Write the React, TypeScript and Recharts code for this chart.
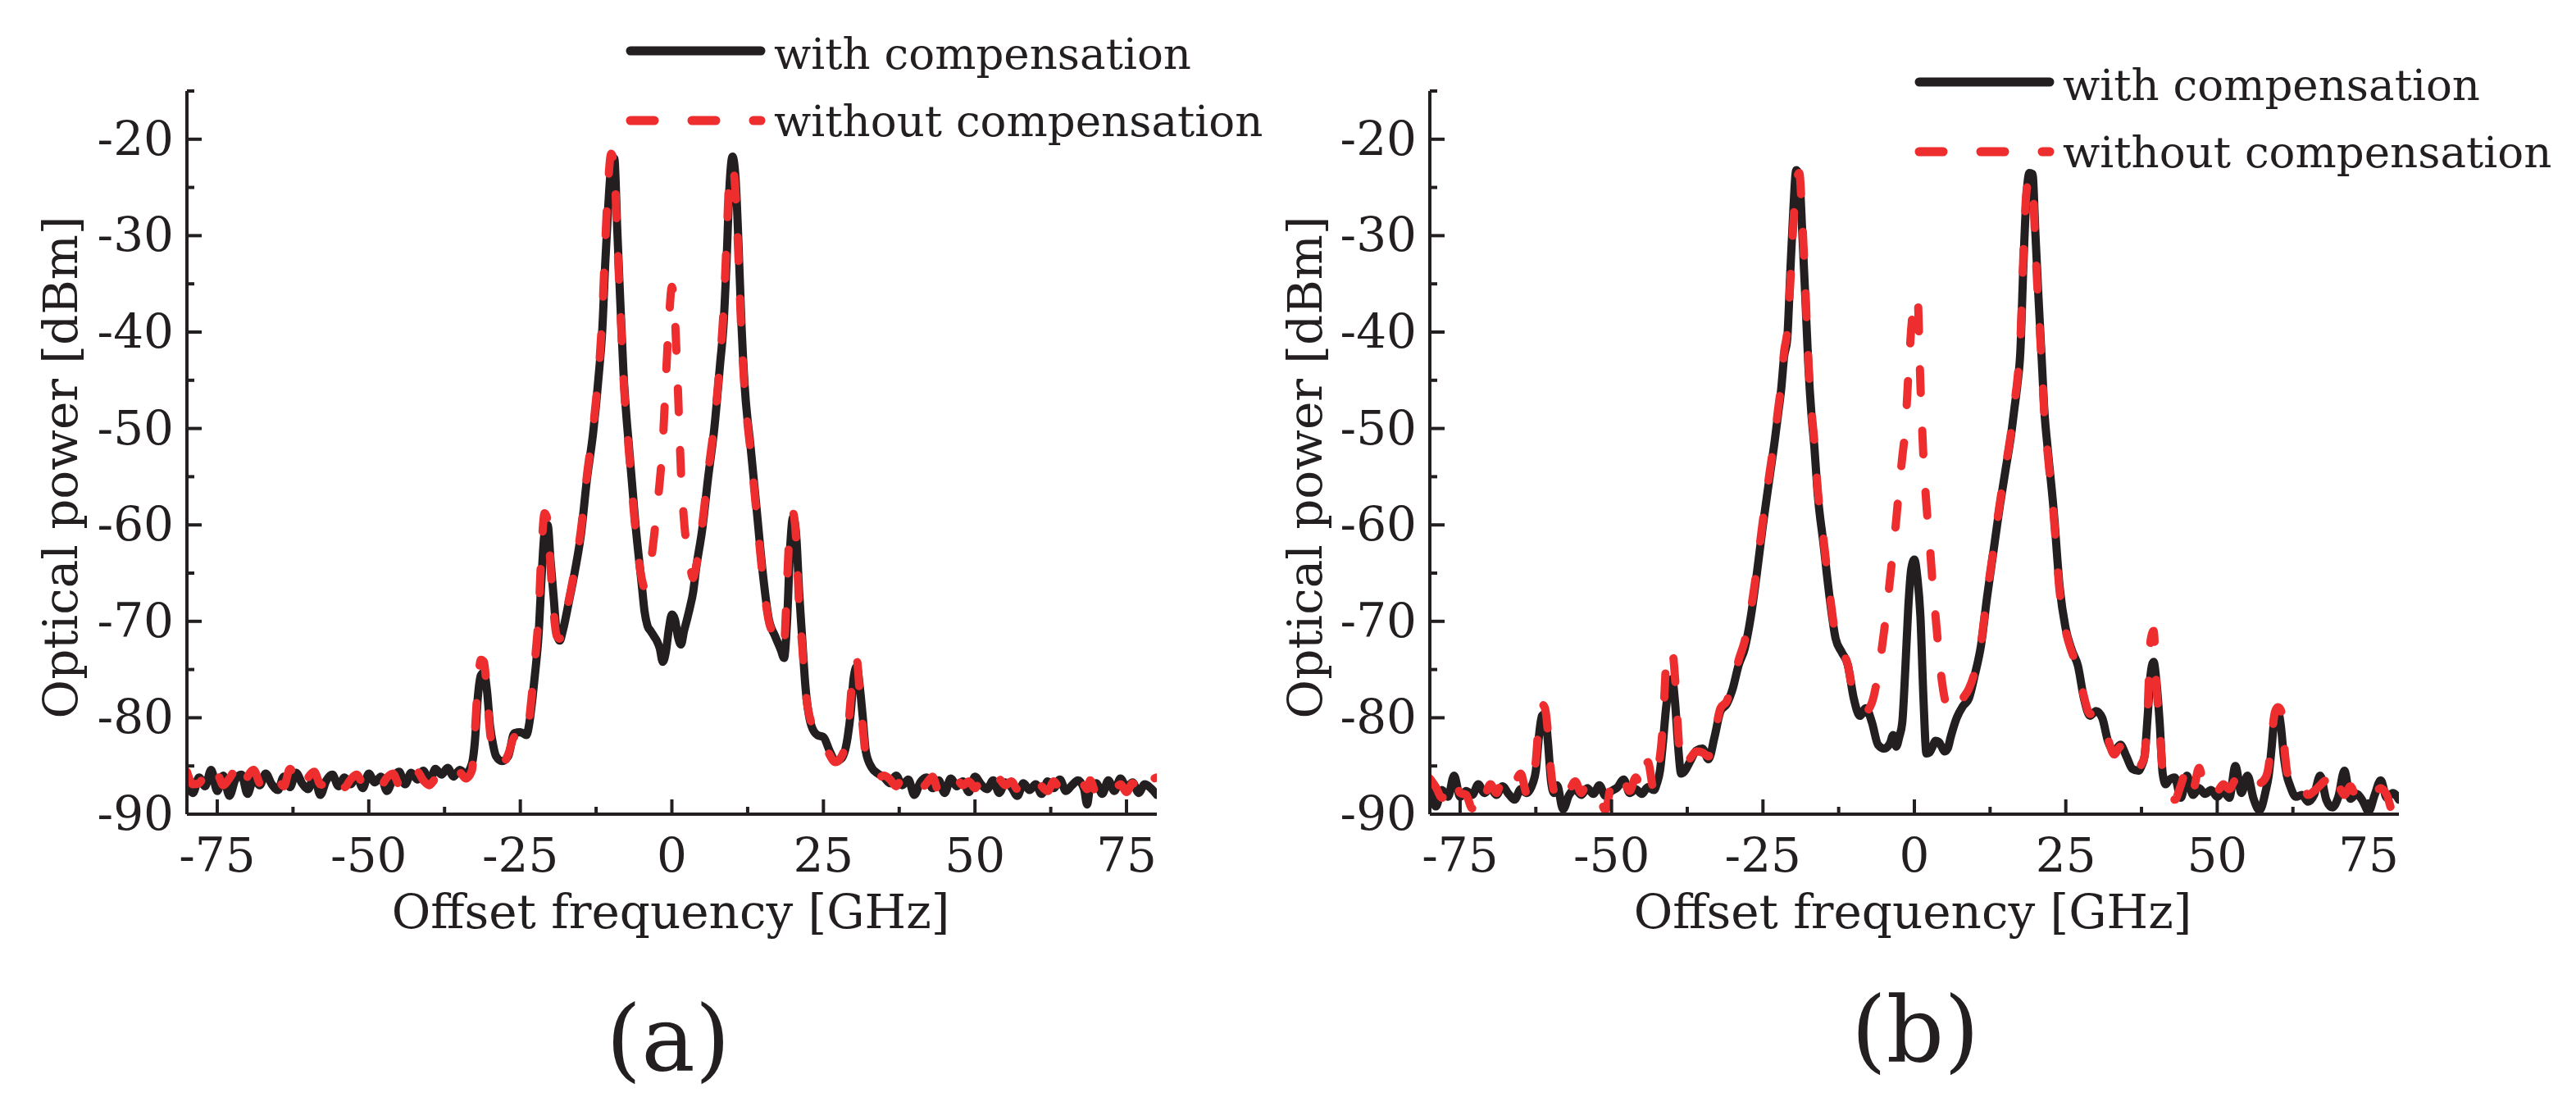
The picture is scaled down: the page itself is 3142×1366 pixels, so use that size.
import { LineChart, Line, XAxis, YAxis } from 'recharts';

const INK = '#231f20';
const RED = '#ee2d2f';
const FONT = '"DejaVu Serif", "Liberation Serif", "Noto Serif", serif';

// tick values (minor ticks included, labels only on the major ones)
const xTicks = [-75, -62.5, -50, -37.5, -25, -12.5, 0, 12.5, 25, 37.5, 50, 62.5, 75];
const yTicks = [-90, -85, -80, -75, -70, -65, -60, -55, -50, -45, -40, -35, -30, -25, -20, -15];

// (a) [offset GHz, dBm]
const withCompA: [number, number][] = [
  [-80, -86.5], [-79, -87.8], [-78, -86.2], [-77, -87.1], [-76, -85.4], [-75, -87.6], [-74, -86.0], [-73, -88.1],
  [-72, -86.4], [-71, -85.9], [-70, -87.9], [-69, -86.3], [-68, -87.0], [-67, -85.8], [-66, -86.9], [-65, -87.5],
  [-64, -86.1], [-63, -87.2], [-62, -85.7], [-61, -86.8], [-60, -87.4], [-59, -86.0], [-58, -88.0], [-57, -86.5],
  [-56, -85.9], [-55, -87.1], [-54, -86.2], [-53, -86.9], [-52, -86.0], [-51, -87.3], [-50, -85.8], [-49, -86.7],
  [-48, -86.1], [-47, -87.6], [-46, -86.3], [-45, -85.6], [-44, -86.9], [-43, -85.7], [-42, -86.4], [-41, -85.5],
  [-40, -86.6], [-39, -85.3], [-38, -85.9], [-37, -85.2], [-36, -86.1], [-35, -85.4], [-34, -85.8],
  [-33, -84.8], [-32.5, -82.5], [-32, -77.8], [-31.5, -75.6], [-31, -75.3], [-30.5, -77.2], [-30, -80.8],
  [-29.5, -82.8], [-29, -84.0], [-28, -84.5], [-27, -84.0], [-26, -81.6], [-25, -81.5], [-24, -81.8],
  [-23.5, -80.5], [-23, -78.0], [-22.5, -75.0], [-22, -71.5], [-21.5, -65.5], [-21, -60.8], [-20.5, -60.0],
  [-20, -63.8], [-19.5, -67.5], [-19, -71.2], [-18.5, -72.0], [-18, -71.0], [-17, -68.0], [-16, -64.8],
  [-15, -61.0], [-14, -55.2], [-13, -50.5], [-12.5, -47.5], [-12, -44.0], [-11.5, -40.0], [-11, -33.0],
  [-10.5, -27.0], [-10, -22.8], [-9.5, -22.0], [-9, -29.5], [-8.5, -37.0], [-8, -44.0], [-7, -52.5],
  [-6, -60.0], [-5, -66.0], [-4.5, -69.0], [-4, -70.5], [-3.5, -71.0], [-3, -71.5], [-2.5, -72.0],
  [-2, -72.8], [-1.5, -74.2], [-1, -73.2], [-0.5, -70.8], [0, -69.3], [0.5, -69.8], [1, -71.6], [1.5, -72.4],
  [2, -71.0], [2.5, -69.8], [3, -68.5], [3.5, -67.0], [4, -64.5], [5, -60.5], [6, -55.0], [7, -50.0],
  [8, -43.0], [8.5, -39.5], [9, -33.0], [9.5, -25.0], [10, -21.8], [10.5, -24.0], [11, -31.0], [11.5, -39.5],
  [12, -45.5], [13, -52.0], [14, -58.5], [15, -65.0], [16, -69.8], [17, -71.5], [18, -73.0], [18.5, -73.8],
  [19, -70.0], [19.5, -62.5], [20, -59.2], [20.5, -61.0], [21, -67.0], [21.5, -71.8], [22, -76.5],
  [23, -80.8], [24, -81.8], [25, -82.0], [26, -83.4], [27, -84.5], [28, -84.2], [29, -82.0], [29.5, -79.5],
  [30, -75.8], [30.5, -74.7], [31, -76.8], [31.5, -80.0], [32, -83.5], [33, -85.2], [34, -85.8],
  [35, -86.2], [36, -86.8], [37, -86.0], [38, -87.0], [39, -86.4], [40, -88.0], [41, -86.7], [42, -86.2],
  [43, -87.3], [44, -86.5], [45, -87.8], [46, -86.3], [47, -87.1], [48, -86.6], [49, -87.7], [50, -86.1],
  [51, -86.9], [52, -87.4], [53, -86.5], [54, -87.8], [55, -86.7], [56, -87.2], [57, -88.1], [58, -86.8],
  [59, -87.5], [60, -86.9], [61, -87.9], [62, -86.6], [63, -87.3], [64, -86.4], [65, -87.6], [66, -87.0],
  [67, -86.5], [68, -87.4], [68.5, -89.0], [69, -87.2], [70, -86.8], [71, -87.9], [72, -86.5], [73, -87.6],
  [74, -86.3], [75, -87.2], [76, -86.7], [77, -87.8], [78, -86.9], [79, -87.3], [80, -88.0],
];

const withoutCompA: [number, number][] = [
  [-80, -85.6], [-79, -86.9], [-78, -86.8], [-77, -86.0], [-76, -87.2], [-75, -85.9], [-74, -87.0], [-73, -86.3],
  [-72, -85.5], [-71, -87.4], [-70, -86.1], [-69, -85.4], [-68, -86.8], [-67, -87.3], [-66, -85.9], [-65, -86.4],
  [-64, -87.1], [-63, -85.3], [-62, -86.6], [-61, -87.5], [-60, -86.2], [-59, -85.6], [-58, -86.9], [-57, -87.0],
  [-56, -86.1], [-55, -85.8], [-54, -87.2], [-53, -86.4], [-52, -85.9], [-51, -86.7], [-50, -86.3], [-49, -85.7],
  [-48, -87.0], [-47, -86.2], [-46, -85.8], [-45, -86.9], [-44, -86.0], [-43, -86.8], [-42, -85.6], [-41, -86.5],
  [-40, -87.0], [-39, -86.4], [-38, -86.8], [-37, -87.2], [-36, -86.0], [-35, -85.7], [-34, -86.3],
  [-33, -85.5], [-32.5, -81.5], [-32, -76.5], [-31.5, -74.0], [-31, -74.2], [-30.5, -77.5], [-30, -81.5],
  [-29.5, -83.5], [-29, -84.5], [-28, -84.8], [-27, -83.8], [-26, -82.0], [-25, -81.8], [-24, -82.2],
  [-23.5, -80.0], [-23, -77.0], [-22.5, -73.5], [-22, -69.5], [-21.5, -62.5], [-21, -58.8], [-20.5, -59.5],
  [-20, -64.5], [-19.5, -69.0], [-19, -71.5], [-18.5, -71.8], [-18, -70.5], [-17, -67.8], [-16, -64.5],
  [-15, -60.5], [-14, -54.8], [-13, -50.0], [-12.5, -47.0], [-12, -43.5], [-11.5, -38.5], [-11, -31.0],
  [-10.5, -24.5], [-10, -21.5], [-9.5, -23.0], [-9, -30.5], [-8.5, -37.5], [-8, -44.5], [-7, -53.0],
  [-6, -60.5], [-5, -65.5], [-4.5, -66.5], [-4, -65.5], [-3.5, -64.0], [-3, -61.5], [-2.5, -58.5],
  [-2, -55.5], [-1.5, -51.5], [-1, -45.0], [-0.5, -39.0], [0, -35.3], [0.5, -38.5], [1, -46.0], [1.5, -54.5],
  [2, -59.5], [2.5, -62.5], [3, -64.3], [3.5, -65.5], [4, -64.3], [5, -60.0], [6, -54.5], [7, -49.5],
  [8, -42.5], [8.5, -38.0], [9, -31.0], [9.5, -24.0], [10, -22.8], [10.5, -25.5], [11, -32.5], [11.5, -40.5],
  [12, -46.0], [13, -52.5], [14, -59.0], [15, -65.5], [16, -70.0], [17, -71.5], [18, -72.8], [18.5, -72.5],
  [19, -66.0], [19.5, -60.0], [20, -58.8], [20.5, -61.5], [21, -68.5], [21.5, -72.5], [22, -76.8],
  [23, -80.5], [24, -81.5], [25, -82.2], [26, -83.8], [27, -84.6], [28, -84.0], [29, -81.5], [29.5, -78.0],
  [30, -74.0], [30.5, -74.0], [31, -77.5], [31.5, -81.0], [32, -84.0], [33, -85.5], [34, -86.2],
  [35, -86.0], [36, -86.4], [37, -87.1], [38, -86.3], [39, -86.9], [40, -86.5], [41, -87.4], [42, -86.8],
  [43, -86.1], [44, -87.6], [45, -86.7], [46, -87.2], [47, -86.4], [48, -87.0], [49, -86.6], [50, -87.3],
  [51, -86.5], [52, -86.9], [53, -87.6], [54, -86.4], [55, -87.0], [56, -86.6], [57, -87.4], [58, -86.8],
  [59, -87.2], [60, -86.3], [61, -87.1], [62, -87.6], [63, -86.6], [64, -87.3], [65, -86.9], [66, -87.5],
  [67, -86.7], [68, -87.0], [68.5, -87.4], [69, -86.5], [70, -87.8], [71, -87.0], [72, -86.6], [73, -87.4],
  [74, -86.9], [75, -87.7], [76, -86.8], [77, -87.3], [78, -88.1], [79, -86.6], [80, -86.2],
];

// (b) [offset GHz, dBm]
const withCompB: [number, number][] = [
  [-80, -86.8], [-79, -89.2], [-78, -87.5], [-77, -88.2], [-76, -86.0], [-75, -88.2], [-74, -87.6], [-73, -88.0],
  [-72, -86.9], [-71, -87.8], [-70, -87.3], [-69, -88.0], [-68, -87.1], [-67, -87.9], [-66, -88.5], [-65, -87.4],
  [-64, -87.8], [-63.5, -87.5], [-63, -86.8], [-62.5, -85.5], [-62, -82.0], [-61.5, -79.8], [-61, -79.6],
  [-60.5, -82.5], [-60, -86.5], [-59.5, -87.8], [-59, -87.0], [-58, -89.5], [-57, -88.0], [-56, -87.4],
  [-55, -88.0], [-54, -87.3], [-53, -87.9], [-52, -87.0], [-51, -88.1], [-50, -87.6], [-49, -87.2], [-48, -86.4],
  [-47, -87.8], [-46, -87.4], [-45, -87.9], [-44, -87.2], [-43, -87.5], [-42.5, -86.8], [-42, -85.5],
  [-41.5, -82.5], [-41, -79.0], [-40.5, -76.8], [-40, -76.0], [-39.5, -78.5], [-39, -83.0], [-38.5, -85.8],
  [-38, -85.6], [-37, -84.5], [-36, -83.4], [-35, -83.2], [-34, -84.3], [-33, -82.0], [-32, -79.3],
  [-31, -78.6], [-30, -77.0], [-29, -74.5], [-28, -72.8], [-27, -69.5], [-26, -65.0], [-25, -60.0],
  [-24, -55.5], [-23, -51.0], [-22.5, -48.5], [-22, -46.0], [-21.5, -42.5], [-21, -40.8], [-20.5, -34.0],
  [-20, -27.5], [-19.5, -23.2], [-19, -24.0], [-18.5, -29.8], [-18, -36.5], [-17.5, -43.5], [-17, -48.5],
  [-16.5, -52.0], [-16, -56.5], [-15, -62.0], [-14, -67.5], [-13, -71.8], [-12, -73.2], [-11, -74.5],
  [-10, -78.0], [-9, -79.8], [-8, -79.0], [-7, -80.5], [-6, -82.8], [-5, -83.2], [-4, -82.6], [-3.5, -81.8],
  [-3, -83.0], [-2.5, -82.0], [-2, -80.5], [-1.5, -75.0], [-1, -68.5], [-0.5, -64.5], [0, -63.6],
  [0.5, -65.5], [1, -69.5], [1.5, -78.0], [2, -83.7], [2.5, -83.6], [3, -83.0], [3.5, -82.4], [4, -82.5],
  [4.5, -83.0], [5, -83.5], [5.5, -83.2], [6, -82.0], [7, -80.0], [8, -78.8], [9, -78.0], [10, -75.5],
  [11, -72.5], [12, -67.5], [13, -63.0], [14, -58.5], [15, -54.5], [16, -50.5], [16.5, -48.0], [17, -45.5],
  [17.5, -42.0], [18, -33.0], [18.5, -26.0], [19, -23.5], [19.5, -23.6], [20, -30.0], [20.5, -36.5],
  [21, -42.5], [21.5, -48.5], [22, -52.0], [23, -58.5], [24, -66.5], [25, -70.8], [26, -73.0], [27, -74.6],
  [28, -78.0], [29, -79.8], [30, -79.3], [31, -80.0], [32, -82.5], [33, -83.5], [34, -82.8], [35, -84.0],
  [36, -85.3], [37, -85.5], [37.5, -85.0], [38, -84.0], [38.5, -80.0], [39, -75.5], [39.5, -74.2],
  [40, -76.5], [40.5, -80.5], [41, -85.8], [41.5, -86.9], [42, -86.5], [43, -86.2], [44, -88.3], [45, -86.0],
  [46, -88.0], [47, -87.3], [48, -87.9], [49, -87.5], [50, -88.2], [51, -87.6], [52, -88.3], [53, -85.0],
  [54, -87.8], [55, -86.0], [56, -88.4], [57, -89.6], [58, -87.6], [58.5, -86.0], [59, -83.0], [59.5, -79.8],
  [60, -79.3], [60.5, -80.8], [61, -84.0], [61.5, -86.0], [62, -87.0], [63, -88.2], [64, -88.0], [65, -88.7],
  [66, -88.0], [67, -86.0], [68, -88.5], [69, -89.3], [70, -88.2], [71, -85.5], [72, -88.4], [73, -87.9],
  [74, -88.6], [75, -89.7], [76, -88.0], [77, -86.5], [78, -88.3], [79, -87.8], [80, -88.5],
];

const withoutCompB: [number, number][] = [
  [-80, -86.3], [-79, -87.2], [-78, -88.3], [-77, -87.0], [-76, -86.2], [-75, -87.8], [-74, -88.0], [-73, -89.4],
  [-72, -87.2], [-71, -88.0], [-70, -86.9], [-69, -87.8], [-68, -86.4], [-67, -87.5], [-66, -86.8], [-65, -85.8],
  [-64, -87.9], [-63.5, -88.0], [-63, -86.8], [-62.5, -84.5], [-62, -80.5], [-61.5, -78.6], [-61, -79.0],
  [-60.5, -81.5], [-60, -85.5], [-59.5, -87.5], [-59, -86.5], [-58, -86.0], [-57, -87.4], [-56, -86.6],
  [-55, -87.8], [-54, -86.7], [-53, -87.5], [-52, -88.2], [-51, -89.6], [-50, -87.0], [-49, -88.0], [-48, -86.7],
  [-47, -87.6], [-46, -86.2], [-45, -87.4], [-44, -84.6], [-43, -87.5], [-42.5, -85.2], [-42, -84.0],
  [-41.5, -80.5], [-41, -74.5], [-40.5, -72.8], [-40, -73.0], [-39.5, -76.0], [-39, -81.5], [-38.5, -85.2],
  [-38, -85.0], [-37, -84.2], [-36, -83.5], [-35, -83.6], [-34, -84.0], [-33, -81.8], [-32, -79.0],
  [-31, -78.3], [-30, -76.5], [-29, -74.0], [-28, -72.0], [-27, -68.8], [-26, -64.5], [-25, -59.5],
  [-24, -55.0], [-23, -50.6], [-22.5, -48.0], [-22, -45.5], [-21.5, -42.0], [-21, -40.0], [-20.5, -35.0],
  [-20, -29.0], [-19.5, -24.5], [-19, -23.5], [-18.5, -28.5], [-18, -35.5], [-17.5, -43.0], [-17, -48.0],
  [-16.5, -51.5], [-16, -56.0], [-15, -61.5], [-14, -67.0], [-13, -71.5], [-12, -73.0], [-11, -74.5],
  [-10, -77.8], [-9, -78.8], [-8, -79.3], [-7, -78.4], [-6, -75.5], [-5, -71.0], [-4, -65.5], [-3.5, -62.5],
  [-3, -59.5], [-2.5, -56.0], [-2, -53.0], [-1.5, -50.0], [-1, -44.5], [-0.5, -39.5], [0, -36.8],
  [0.5, -36.2], [1, -45.5], [1.5, -53.0], [2, -58.0], [2.5, -61.7], [3, -66.0], [3.5, -69.5], [4, -73.0],
  [4.5, -76.0], [5, -78.0], [5.5, -79.2], [6, -79.6], [7, -79.0], [8, -78.0], [9, -77.0], [10, -75.2],
  [11, -72.3], [12, -67.2], [13, -62.8], [14, -58.2], [15, -54.2], [16, -50.2], [16.5, -47.5], [17, -45.0],
  [17.5, -41.0], [18, -32.0], [18.5, -25.5], [19, -24.0], [19.5, -24.5], [20, -31.5], [20.5, -37.5],
  [21, -43.0], [21.5, -49.0], [22, -52.5], [23, -59.0], [24, -67.0], [25, -71.0], [26, -73.2], [27, -74.8],
  [28, -77.8], [29, -79.6], [30, -79.5], [31, -80.3], [32, -82.3], [33, -83.8], [34, -83.0], [35, -84.3],
  [36, -85.4], [37, -85.3], [37.5, -84.8], [38, -84.0], [38.5, -79.5], [39, -72.0], [39.5, -71.0],
  [40, -77.0], [40.5, -81.0], [41, -85.5], [41.5, -86.5], [42, -86.8], [43, -88.5], [44, -87.0], [45, -85.3],
  [46, -87.5], [47, -85.2], [48, -87.4], [49, -86.8], [50, -87.6], [51, -86.9], [52, -87.4], [53, -86.5],
  [54, -87.0], [55, -87.8], [56, -86.9], [57, -86.8], [58, -86.2], [58.5, -85.0], [59, -82.0], [59.5, -79.5],
  [60, -78.9], [60.5, -79.2], [61, -82.5], [61.5, -85.5], [62, -86.5], [63, -87.5], [64, -87.0], [65, -88.0],
  [66, -87.6], [67, -87.0], [68, -86.5], [69, -88.4], [70, -87.2], [71, -88.0], [72, -87.1], [73, -88.2],
  [74, -87.5], [75, -87.0], [76, -87.7], [77, -87.3], [78, -88.0], [79, -89.7], [80, -86.8],
];

const toRows = (pts: [number, number][]) => pts.map(([f, p]) => ({ f, p }));

const TICK_SIZE = 8;
const TICK_MARGIN = 8;

function XTick(props: any) {
  const { x, y, payload } = props;
  const axisY = y - TICK_SIZE - TICK_MARGIN;
  const major = payload.value % 25 === 0;
  return (
    <g>
      <line x1={x} x2={x} y1={axisY} y2={axisY - (major ? 18 : 9)} stroke={INK} strokeWidth={4} />
      {major && (
        <text x={x} y={axisY + 70} textAnchor="middle" fontSize={58} fontFamily={FONT} fill={INK}>
          {payload.value}
        </text>
      )}
    </g>
  );
}

function YTick(props: any) {
  const { x, y, payload } = props;
  const axisX = x + TICK_SIZE + TICK_MARGIN;
  const major = payload.value % 10 === 0;
  return (
    <g>
      <line x1={axisX} x2={axisX + (major ? 18 : 9)} y1={y} y2={y} stroke={INK} strokeWidth={4} />
      {major && (
        <text x={axisX - 16} y={y + 19} textAnchor="end" fontSize={58} fontFamily={FONT} fill={INK}>
          {payload.value}
        </text>
      )}
    </g>
  );
}

type PanelProps = {
  withComp: [number, number][];
  withoutComp: [number, number][];
  marginLeft: number;
  marginRight: number;
};

function Panel({ withComp, withoutComp, marginLeft, marginRight }: PanelProps) {
  return (
    <LineChart width={1571} height={1366} margin={{ top: 111, right: marginRight, bottom: 273, left: marginLeft }}>
      <XAxis
        type="number"
        dataKey="f"
        domain={[-80, 80]}
        ticks={xTicks}
        interval={0}
        tickSize={TICK_SIZE}
        tickMargin={TICK_MARGIN}
        tickLine={false}
        tick={XTick}
        axisLine={{ stroke: INK, strokeWidth: 4 }}
        height={100}
        allowDataOverflow
      />
      <YAxis
        type="number"
        domain={[-90, -15]}
        ticks={yTicks}
        interval={0}
        tickSize={TICK_SIZE}
        tickMargin={TICK_MARGIN}
        tickLine={false}
        tick={YTick}
        axisLine={{ stroke: INK, strokeWidth: 4 }}
        width={100}
        allowDataOverflow
      />
      <Line
        data={toRows(withComp)}
        dataKey="p"
        type="monotone"
        stroke={INK}
        strokeWidth={10}
        strokeLinecap="round"
        strokeLinejoin="round"
        dot={false}
        activeDot={false}
        isAnimationActive={false}
      />
      <Line
        data={toRows(withoutComp)}
        dataKey="p"
        type="monotone"
        stroke={RED}
        strokeWidth={10}
        strokeDasharray="29 46"
        strokeLinecap="round"
        strokeLinejoin="round"
        dot={false}
        activeDot={false}
        isAnimationActive={false}
      />
    </LineChart>
  );
}

function LegendBlock({ x, y }: { x: number; y: number }) {
  return (
    <g>
      <line x1={x} x2={x + 159} y1={y} y2={y} stroke={INK} strokeWidth={11} strokeLinecap="round" />
      <text x={x + 175} y={y + 22} fontSize={53} fontFamily={FONT} fill={INK}>with compensation</text>
      <line x1={x} x2={x + 159} y1={y + 85} y2={y + 85} stroke={RED} strokeWidth={11} strokeDasharray="29 46" strokeLinecap="round" />
      <text x={x + 175} y={y + 104} fontSize={53} fontFamily={FONT} fill={INK}>without compensation</text>
    </g>
  );
}

export default function App() {
  return (
    <div style={{ position: 'absolute', left: 0, top: 0, width: 3142, height: 1366, background: '#fff', overflow: 'hidden' }}>
      <div style={{ position: 'absolute', left: 0, top: 0 }}>
        <Panel withComp={withCompA} withoutComp={withoutCompA} marginLeft={128} marginRight={160} />
      </div>
      <div style={{ position: 'absolute', left: 1571, top: 0 }}>
        <Panel withComp={withCompB} withoutComp={withoutCompB} marginLeft={73} marginRight={216} />
      </div>
      <svg width={3142} height={1366} style={{ position: 'absolute', left: 0, top: 0, pointerEvents: 'none' }}>
        <text transform="translate(94,570) rotate(-90)" textAnchor="middle" fontSize={58} fontFamily={FONT} fill={INK}>
          Optical power [dBm]
        </text>
        <text transform="translate(1612,570) rotate(-90)" textAnchor="middle" fontSize={58} fontFamily={FONT} fill={INK}>
          Optical power [dBm]
        </text>
        <text x={818} y={1132} textAnchor="middle" fontSize={58} fontFamily={FONT} fill={INK}>Offset frequency [GHz]</text>
        <text x={2333} y={1132} textAnchor="middle" fontSize={58} fontFamily={FONT} fill={INK}>Offset frequency [GHz]</text>
        <text x={815} y={1305} textAnchor="middle" fontSize={110} fontFamily={FONT} fill={INK}>(a)</text>
        <text x={2336} y={1294} textAnchor="middle" fontSize={110} fontFamily={FONT} fill={INK}>(b)</text>
        <LegendBlock x={769} y={62} />
        <LegendBlock x={2341} y={100} />
      </svg>
    </div>
  );
}
